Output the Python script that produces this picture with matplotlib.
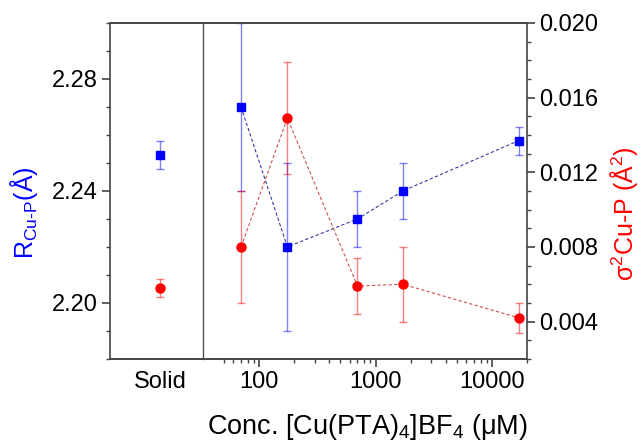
import matplotlib
matplotlib.use("Agg")
import matplotlib.pyplot as plt
from matplotlib.ticker import FixedLocator, MultipleLocator, NullFormatter, NullLocator

plt.rcParams["font.family"] = ["Liberation Sans", "DejaVu Sans"]
plt.rcParams["mathtext.fontset"] = "custom"
plt.rcParams["mathtext.rm"] = "Liberation Sans"
plt.rcParams["mathtext.it"] = "Liberation Sans:italic"
plt.rcParams["mathtext.default"] = "regular"

# Solid reference sample
solid_label = "Solid"
solid_r = 2.253
solid_r_err = 0.005
solid_s2 = 0.0058
solid_s2_err = 0.0005

# Solutions at varying concentration (uM)
conc = [70, 175, 700, 1720, 17000]
r_cup = [2.270, 2.220, 2.230, 2.240, 2.258]
r_cup_err = [0.030, 0.030, 0.010, 0.010, 0.005]
s2_cup = [0.0080, 0.0149, 0.0059, 0.0060, 0.0042]
s2_cup_err = [0.0030, 0.0030, 0.0015, 0.0020, 0.0008]

conc_ticks = [100, 1000, 10000]
conc_tick_labels = ["100", "1000", "10000"]
r_ticks = [2.20, 2.24, 2.28]
r_tick_labels = ["2.20", "2.24", "2.28"]
s2_ticks = [0.004, 0.008, 0.012, 0.016, 0.020]
s2_tick_labels = ["0.004", "0.008", "0.012", "0.016", "0.020"]

BLUE = "#0000ff"
RED = "#ff0000"
SPINE = "#444444"
TICK_FS = 17
LABEL_FS = 18

fig = plt.figure(figsize=(6.41, 4.42), dpi=100)
bottom, height = 0.188, 0.760
ax_s = fig.add_axes([0.1716, bottom, 0.1451, height])
ax_c = fig.add_axes([0.3167, bottom, 0.5055, height])
ax_s2 = ax_s.twinx()
ax_c2 = ax_c.twinx()

r_lim = (2.18, 2.30)
s2_lim = (0.002, 0.020)

eb_kw = dict(elinewidth=1.0, capsize=3, capthick=1.0)

# Solid panel
ax_s.errorbar([0], [solid_r], yerr=[solid_r_err], fmt="none", ecolor=BLUE,
              alpha=0.5, **eb_kw)
ax_s.plot([0], [solid_r], "s", color=BLUE, ms=5.5)
ax_s2.errorbar([0], [solid_s2], yerr=[solid_s2_err], fmt="none", ecolor=RED,
               alpha=0.5, **eb_kw)
ax_s2.plot([0], [solid_s2], "o", color=RED, ms=6.5)

# Concentration panel
ax_c.errorbar(conc, r_cup, yerr=r_cup_err, fmt="none", ecolor=BLUE,
              alpha=0.5, **eb_kw)
ax_c.plot(conc, r_cup, "--", color="#3a3aa0", lw=0.8, dashes=(3, 2))
ax_c.plot(conc, r_cup, "s", color=BLUE, ms=5.5, ls="none", zorder=5)
ax_c2.errorbar(conc, s2_cup, yerr=s2_cup_err, fmt="none", ecolor=RED,
               alpha=0.5, **eb_kw)
ax_c2.plot(conc, s2_cup, "--", color="#cc5555", lw=0.8, dashes=(3, 2))
ax_c2.plot(conc, s2_cup, "o", color=RED, ms=6.5, ls="none", zorder=5)

for a in (ax_s, ax_c):
    a.set_ylim(*r_lim)
for a in (ax_s2, ax_c2):
    a.set_ylim(*s2_lim)

ax_s.set_xlim(-1.075, 0.925)
ax_c.set_xscale("log")
ax_c.set_xlim(33, 20000)

# Spines
for a in (ax_s, ax_c, ax_s2, ax_c2):
    for sp in a.spines.values():
        sp.set_color(SPINE)
        sp.set_linewidth(1.2)
ax_s.spines["right"].set_visible(False)
ax_s2.spines["right"].set_color("#555555")
ax_s2.spines["right"].set_linewidth(1.0)
ax_s2.spines["left"].set_visible(False)
ax_c.spines["left"].set_visible(False)
ax_c2.spines["left"].set_visible(False)
ax_c.spines["right"].set_visible(False)

# Left R axis ticks
ax_s.set_yticks(r_ticks)
ax_s.set_yticklabels(r_tick_labels)
ax_s.yaxis.set_minor_locator(MultipleLocator(0.01))
ax_s.tick_params(axis="y", which="major", direction="out", length=6, width=1.2,
                 color=SPINE, labelsize=TICK_FS, pad=3)
ax_s.tick_params(axis="y", which="minor", direction="out", length=3, width=1.0,
                 color=SPINE)
ax_s.set_xticks([0])
ax_s.set_xticklabels([solid_label])
ax_s.tick_params(axis="x", length=0, labelsize=TICK_FS, pad=9)
ax_s2.yaxis.set_major_locator(NullLocator())
ax_s2.yaxis.set_minor_locator(NullLocator())

# Concentration panel ticks
ax_c.yaxis.set_major_locator(NullLocator())
ax_c.yaxis.set_minor_locator(NullLocator())
ax_c.set_xticks(conc_ticks)
ax_c.set_xticklabels(conc_tick_labels)
minor_x = [m * d for d in (10, 100, 1000) for m in range(2, 10) if 45 <= m * d] + [20000]
ax_c.xaxis.set_minor_locator(FixedLocator(minor_x))
ax_c.xaxis.set_minor_formatter(NullFormatter())
ax_c.tick_params(axis="x", which="major", direction="out", length=6, width=1.2,
                 color=SPINE, labelsize=TICK_FS, pad=3)
ax_c.tick_params(axis="x", which="minor", direction="out", length=3, width=1.0,
                 color=SPINE)

ax_c2.set_yticks(s2_ticks)
ax_c2.set_yticklabels(s2_tick_labels)
ax_c2.yaxis.set_minor_locator(MultipleLocator(0.001))
ax_c2.tick_params(axis="y", which="major", direction="out", length=6, width=1.2,
                  color=SPINE, labelsize=TICK_FS, pad=3)
ax_c2.tick_params(axis="y", which="minor", direction="out", length=3, width=1.0,
                  color=SPINE)
ax_c2.spines["right"].set_visible(True)

# Axis labels
fig.text(0.037, 0.52, r"R$_{Cu\text{-}P}$(Å)", color=BLUE, fontsize=LABEL_FS,
         rotation=90, ha="center", va="center")
fig.text(0.974, 0.516, r"σ$^2$Cu-P (Å$^2$)", color=RED, fontsize=LABEL_FS,
         rotation=90, ha="center", va="center")
fig.text(0.5725, 0.018, r"Conc. [Cu(PTA)$_4$]BF$_4$ (μM)", ha="center",
         va="baseline", fontsize=19.5)

fig.savefig("out.png", dpi=100)
